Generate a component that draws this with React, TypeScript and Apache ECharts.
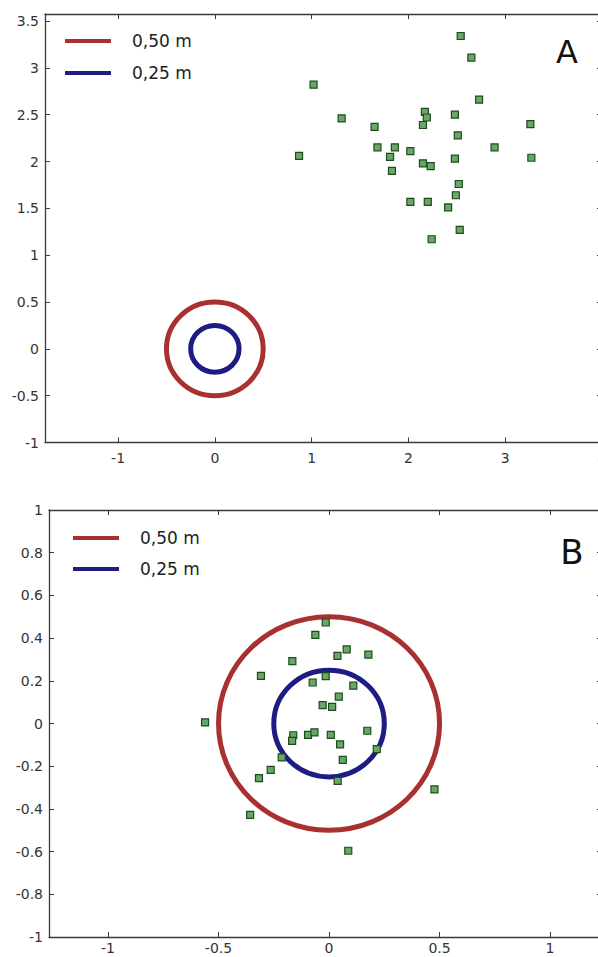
import React, { useEffect, useRef } from "react";
import * as echarts from "echarts";

// Panel A data
const aPointsX = [2.54, 2.65, 1.02, 2.73, 1.31, 2.17, 2.19, 2.48, 2.15, 1.65, 3.26, 2.51, 1.68, 1.86, 2.02, 2.89, 0.87, 1.81, 2.48, 3.27, 2.15, 2.23, 1.83, 2.52, 2.49, 2.02, 2.2, 2.41, 2.53, 2.24];
const aPointsY = [3.34, 3.11, 2.82, 2.66, 2.46, 2.53, 2.47, 2.5, 2.39, 2.37, 2.4, 2.28, 2.15, 2.15, 2.11, 2.15, 2.06, 2.05, 2.03, 2.04, 1.98, 1.95, 1.9, 1.76, 1.64, 1.57, 1.57, 1.51, 1.27, 1.17];

// Panel B data
const bPointsX = [-0.561, -0.308, -0.166, -0.015, -0.062, 0.038, 0.08, 0.178, -0.015, -0.074, 0.11, 0.044, -0.029, 0.014, -0.162, -0.167, -0.095, -0.066, 0.008, 0.05, 0.173, 0.216, 0.062, 0.039, 0.477, 0.087, -0.214, -0.264, -0.317, -0.357];
const bPointsY = [0.005, 0.223, 0.292, 0.473, 0.415, 0.317, 0.347, 0.323, 0.222, 0.192, 0.177, 0.126, 0.086, 0.078, -0.055, -0.081, -0.053, -0.042, -0.053, -0.098, -0.034, -0.12, -0.17, -0.269, -0.309, -0.596, -0.159, -0.217, -0.256, -0.428];

// circles: name, radius
const circleNames = ["0,50 m", "0,25 m"];
const circleRadii = [0.5, 0.25];
const circleColors = ["#a83030", "#1c1c82"];

const panelLabels = ["A", "B"];

const FONT = "DejaVu Sans";
const AXIS_COLOR = "#3a3a3a";
const LABEL_COLOR = "#333333";

export default function App() {
  const ref = useRef<HTMLDivElement>(null);

  useEffect(() => {
    if (!ref.current) return;
    const chart = echarts.init(ref.current, null, { renderer: "svg" });

    const grids = [
      { left: 45, top: 14, right: -4, height: 428.5, show: false, containLabel: false, outerBoundsMode: "none" },
      { left: 49, top: 510, right: -4, height: 427, show: false, containLabel: false, outerBoundsMode: "none" },
    ];

    const axisLine = { show: true, onZero: false, lineStyle: { color: AXIS_COLOR, width: 1.3 } };
    const axisTick = { show: true, inside: true, length: 5, lineStyle: { color: AXIS_COLOR, width: 1 } };
    const axisLabelBase = { color: LABEL_COLOR, fontFamily: FONT, fontSize: 14 };

    const xRanges = [
      { min: -1.755, max: 4 },
      { min: -1.267, max: 1.235 },
    ];
    const yRanges = [
      { min: -1, max: 3.575, interval: 0.5 },
      { min: -1, max: 1, interval: 0.2 },
    ];
    const xLabelMargins = [8, 4];

    const xAxis: any[] = [];
    const yAxis: any[] = [];
    for (let g = 0; g < 2; g++) {
      xAxis.push({
        type: "value",
        gridIndex: g,
        position: "bottom",
        min: xRanges[g].min,
        max: xRanges[g].max,
        splitNumber: 5,
        axisLine,
        axisTick,
        splitLine: { show: false },
        axisLabel: { ...axisLabelBase, margin: xLabelMargins[g], showMinLabel: false, showMaxLabel: g === 0 },
      });
      xAxis.push({
        type: "value",
        gridIndex: g,
        position: "top",
        min: xRanges[g].min,
        max: xRanges[g].max,
        splitNumber: 5,
        axisLine,
        axisTick,
        splitLine: { show: false },
        axisLabel: { show: false },
      });
      yAxis.push({
        type: "value",
        gridIndex: g,
        position: "left",
        min: yRanges[g].min,
        max: yRanges[g].max,
        interval: yRanges[g].interval,
        axisLine,
        axisTick,
        splitLine: { show: false },
        axisLabel: { ...axisLabelBase, margin: 6, showMaxLabel: g === 1, showMinLabel: true },
      });
      yAxis.push({
        type: "value",
        gridIndex: g,
        position: "right",
        min: yRanges[g].min,
        max: yRanges[g].max,
        interval: yRanges[g].interval,
        axisLine,
        axisTick,
        splitLine: { show: false },
        axisLabel: { show: false },
      });
    }

    const series: any[] = [];
    for (let g = 0; g < 2; g++) {
      for (let c = 0; c < circleNames.length; c++) {
        series.push({
          type: "custom",
          name: circleNames[c],
          xAxisIndex: g * 2,
          yAxisIndex: g * 2,
          coordinateSystem: "cartesian2d",
          itemStyle: { color: circleColors[c] },
          encode: { x: 0, y: 1 },
          data: [[0, 0, circleRadii[c]]],
          clip: false,
          renderItem: (params: any, api: any) => {
            const center = api.coord([api.value(0), api.value(1)]);
            const size = api.size([api.value(2), api.value(2)]);
            return {
              type: "ellipse",
              shape: { cx: center[0], cy: center[1], rx: size[0], ry: size[1] },
              style: { fill: "none", stroke: circleColors[c], lineWidth: 5 },
            };
          },
          z: 2,
        });
      }
    }
    const pts = [
      aPointsX.map((x, i) => [x, aPointsY[i]]),
      bPointsX.map((x, i) => [x, bPointsY[i]]),
    ];
    for (let g = 0; g < 2; g++) {
      series.push({
        type: "scatter",
        name: "points" + panelLabels[g],
        xAxisIndex: g * 2,
        yAxisIndex: g * 2,
        symbol: "rect",
        symbolSize: 7,
        itemStyle: { color: "#67a867", borderColor: "#1f4a1f", borderWidth: 1.2, opacity: 1 },
        data: pts[g],
        z: 5,
      });
    }

    const legendBase = {
      orient: "vertical",
      padding: 0,
      itemWidth: 46,
      itemHeight: 4,
      icon: "rect",
      selectedMode: false,
      data: circleNames,
      textStyle: { fontFamily: FONT, fontSize: 17, color: "#222", lineHeight: 20, padding: [0, 0, 0, 16] },
    };

    chart.setOption({
      animation: false,
      backgroundColor: "#ffffff",
      grid: grids,
      xAxis,
      yAxis,
      legend: [
        { ...legendBase, left: 65, top: 31, itemGap: 12 },
        { ...legendBase, left: 73, top: 528, itemGap: 11 },
      ],
      series,
      graphic: [
        {
          type: "text",
          x: 567,
          y: 52,
          style: { text: panelLabels[0], fontFamily: FONT, fontSize: 32, fill: "#111", align: "center", verticalAlign: "middle" },
        },
        {
          type: "text",
          x: 572,
          y: 552,
          style: { text: panelLabels[1], fontFamily: FONT, fontSize: 34, fill: "#111", align: "center", verticalAlign: "middle" },
        },
      ],
    });

    return () => chart.dispose();
  }, []);

  return (
    <div
      ref={ref}
      style={{ position: "absolute", left: 0, top: 0, width: 598, height: 957 }}
    />
  );
}
